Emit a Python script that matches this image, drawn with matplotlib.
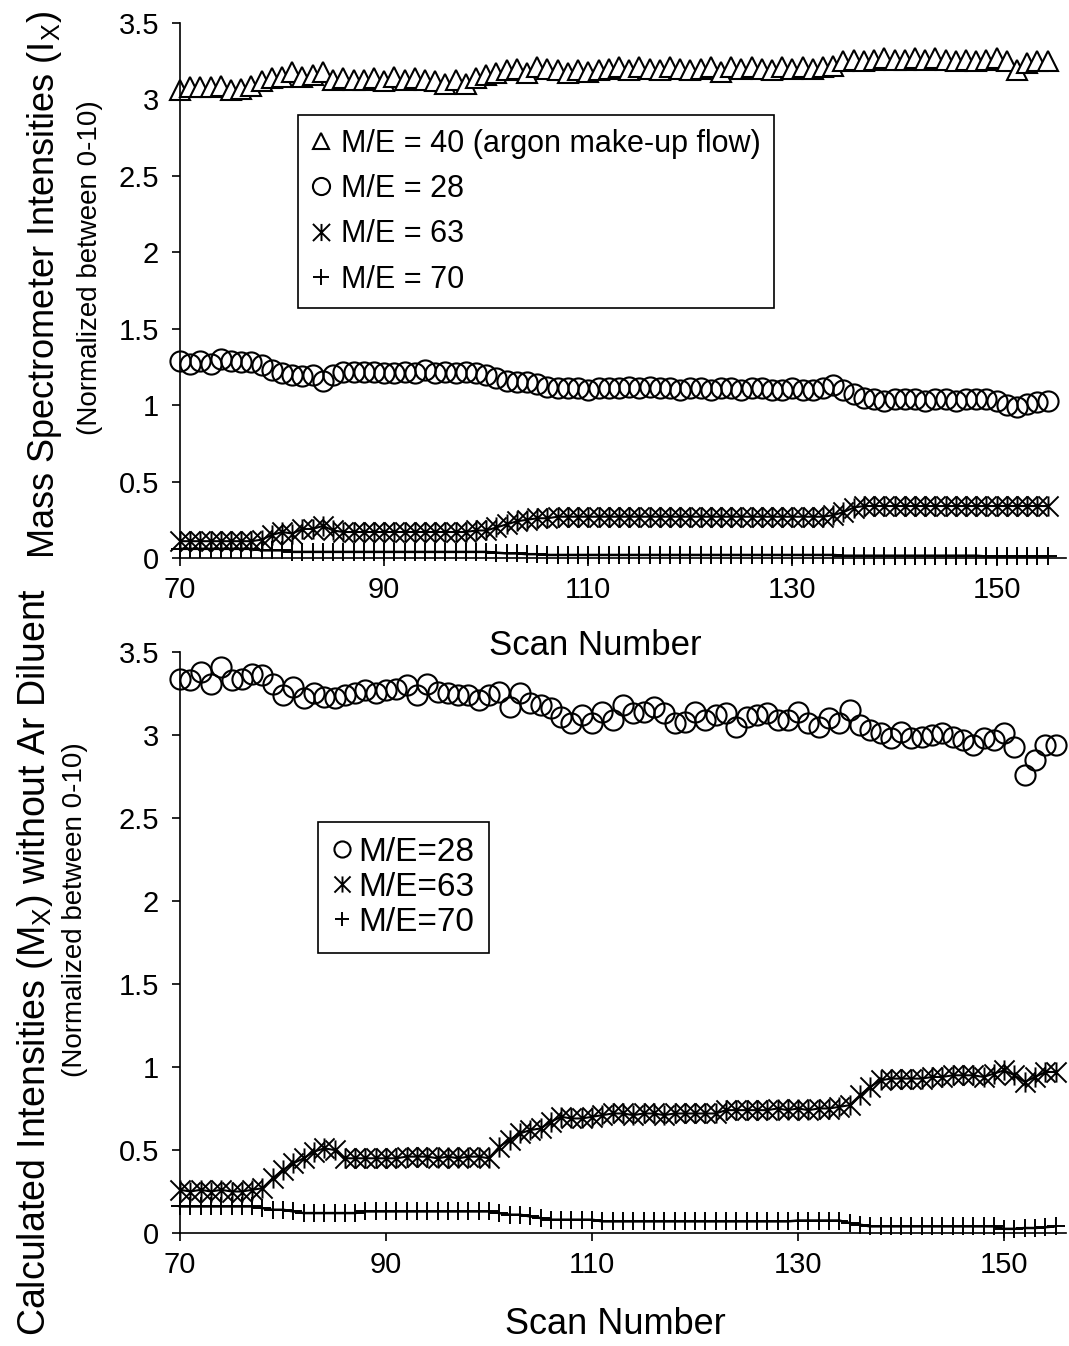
import numpy as np
import matplotlib
matplotlib.use('Agg')
import matplotlib.pyplot as plt
from matplotlib.path import Path

plt.rcParams['font.family'] = ['Liberation Sans', 'DejaVu Sans']
plt.rcParams['mathtext.default'] = 'regular'

# scan numbers
scans = np.arange(70, 156)

# top panel: raw mass spectrometer intensities
me40_top = [3.06, 3.08, 3.08, 3.08, 3.09, 3.06, 3.07, 3.09, 3.12, 3.14,
            3.15, 3.18, 3.15, 3.16, 3.18, 3.13, 3.14, 3.13, 3.13, 3.14,
            3.12, 3.15, 3.13, 3.14, 3.13, 3.12, 3.10, 3.13, 3.10, 3.14,
            3.16, 3.17, 3.19, 3.20, 3.17, 3.21, 3.20, 3.19, 3.17, 3.19,
            3.18, 3.19, 3.20, 3.21, 3.19, 3.21, 3.20, 3.19, 3.21, 3.20,
            3.19, 3.20, 3.21, 3.18, 3.21, 3.20, 3.21, 3.20, 3.19, 3.21,
            3.20, 3.21, 3.20, 3.21, 3.22, 3.25, 3.26, 3.25, 3.26, 3.27,
            3.26, 3.26, 3.27, 3.26, 3.27, 3.26, 3.25, 3.26, 3.25, 3.26,
            3.27, 3.25, 3.19, 3.24, 3.25, 3.25]
me28_top = [1.29, 1.27, 1.29, 1.27, 1.30, 1.29, 1.28, 1.28, 1.26, 1.23,
            1.21, 1.20, 1.19, 1.20, 1.16, 1.20, 1.22, 1.22, 1.22, 1.22,
            1.21, 1.21, 1.22, 1.21, 1.23, 1.21, 1.22, 1.21, 1.22, 1.21,
            1.20, 1.18, 1.16, 1.15, 1.15, 1.14, 1.12, 1.11, 1.11, 1.11,
            1.10, 1.11, 1.11, 1.11, 1.12, 1.11, 1.12, 1.11, 1.11, 1.10,
            1.11, 1.11, 1.10, 1.11, 1.11, 1.10, 1.11, 1.11, 1.10, 1.10,
            1.11, 1.10, 1.10, 1.11, 1.13, 1.10, 1.07, 1.05, 1.04, 1.03,
            1.04, 1.04, 1.04, 1.03, 1.04, 1.04, 1.03, 1.04, 1.04, 1.04,
            1.03, 1.00, 0.99, 1.01, 1.02, 1.03]
me63_top = [0.11, 0.11, 0.11, 0.11, 0.11, 0.11, 0.11, 0.11, 0.12, 0.15,
            0.17, 0.16, 0.19, 0.19, 0.21, 0.18, 0.17, 0.17, 0.17, 0.17,
            0.17, 0.17, 0.17, 0.17, 0.17, 0.17, 0.17, 0.17, 0.17, 0.18,
            0.18, 0.20, 0.22, 0.24, 0.25, 0.26, 0.26, 0.27, 0.27, 0.27,
            0.27, 0.27, 0.27, 0.27, 0.27, 0.27, 0.27, 0.27, 0.27, 0.27,
            0.27, 0.27, 0.27, 0.27, 0.27, 0.27, 0.27, 0.27, 0.27, 0.27,
            0.27, 0.27, 0.27, 0.27, 0.28, 0.30, 0.33, 0.34, 0.34, 0.34,
            0.34, 0.34, 0.34, 0.34, 0.34, 0.34, 0.34, 0.34, 0.34, 0.34,
            0.34, 0.34, 0.34, 0.34, 0.34, 0.34]
me70_top = [0.06, 0.06, 0.06, 0.06, 0.06, 0.06, 0.06, 0.06, 0.05, 0.05,
            0.05, 0.04, 0.04, 0.04, 0.04, 0.04, 0.04, 0.04, 0.04, 0.04,
            0.04, 0.04, 0.04, 0.04, 0.04, 0.04, 0.04, 0.04, 0.04, 0.04,
            0.04, 0.035, 0.03, 0.03, 0.025, 0.025, 0.02, 0.02, 0.02, 0.02,
            0.02, 0.02, 0.02, 0.02, 0.02, 0.02, 0.02, 0.02, 0.02, 0.02,
            0.02, 0.02, 0.02, 0.02, 0.02, 0.02, 0.02, 0.02, 0.02, 0.02,
            0.02, 0.02, 0.02, 0.02, 0.02, 0.015, 0.015, 0.015, 0.015, 0.015,
            0.015, 0.015, 0.015, 0.015, 0.015, 0.015, 0.015, 0.015, 0.015, 0.01,
            0.01, 0.01, 0.01, 0.01, 0.01, 0.01]

# bottom panel: calculated intensities without Ar diluent
me28_bot = [3.34, 3.33, 3.38, 3.31, 3.41, 3.33, 3.34, 3.37, 3.36, 3.31,
            3.24, 3.29, 3.22, 3.25, 3.23, 3.22, 3.24, 3.25, 3.27, 3.25,
            3.27, 3.28, 3.30, 3.24, 3.31, 3.26, 3.25, 3.24, 3.24, 3.21,
            3.24, 3.26, 3.17, 3.25, 3.19, 3.18, 3.16, 3.11, 3.07, 3.12,
            3.07, 3.14, 3.09, 3.18, 3.13, 3.14, 3.17, 3.13, 3.07, 3.08,
            3.14, 3.09, 3.12, 3.13, 3.05, 3.11, 3.12, 3.13, 3.09, 3.09,
            3.14, 3.07, 3.05, 3.10, 3.07, 3.15, 3.06, 3.03, 3.01, 2.98,
            3.02, 2.98, 2.99, 3.00, 3.01, 2.99, 2.97, 2.94, 2.98, 2.97,
            3.01, 2.93, 2.76, 2.85, 2.94, 2.94]
me63_bot = [0.26, 0.25, 0.26, 0.25, 0.26, 0.25, 0.25, 0.26, 0.27, 0.33,
            0.38, 0.42, 0.45, 0.49, 0.51, 0.50, 0.45, 0.45, 0.45, 0.45,
            0.45, 0.45, 0.46, 0.46, 0.46, 0.45, 0.46, 0.45, 0.46, 0.46,
            0.45, 0.52, 0.56, 0.60, 0.62, 0.63, 0.67, 0.70, 0.69, 0.69,
            0.70, 0.71, 0.72, 0.72, 0.71, 0.72, 0.72, 0.71, 0.72, 0.72,
            0.72, 0.72, 0.72, 0.74, 0.74, 0.74, 0.74, 0.74, 0.75, 0.74,
            0.75, 0.74, 0.75, 0.75, 0.76, 0.77, 0.83, 0.88, 0.92, 0.93,
            0.93, 0.93, 0.93, 0.94, 0.94, 0.95, 0.95, 0.95, 0.94, 0.96,
            0.98, 0.95, 0.91, 0.94, 0.97, 0.97]
me70_bot = [0.16, 0.16, 0.16, 0.16, 0.16, 0.16, 0.16, 0.16, 0.15, 0.14,
            0.14, 0.13, 0.12, 0.12, 0.12, 0.12, 0.12, 0.12, 0.13, 0.13,
            0.13, 0.13, 0.13, 0.13, 0.13, 0.13, 0.13, 0.13, 0.13, 0.13,
            0.13, 0.12, 0.11, 0.11, 0.10, 0.09, 0.08, 0.08, 0.08, 0.08,
            0.08, 0.07, 0.07, 0.07, 0.07, 0.07, 0.07, 0.07, 0.07, 0.07,
            0.07, 0.07, 0.07, 0.07, 0.07, 0.07, 0.07, 0.07, 0.07, 0.07,
            0.075, 0.075, 0.075, 0.075, 0.075, 0.06, 0.05, 0.04, 0.04, 0.04,
            0.04, 0.04, 0.04, 0.04, 0.04, 0.04, 0.04, 0.04, 0.04, 0.04,
            0.025, 0.025, 0.03, 0.03, 0.035, 0.04]

# excel style "star": an X with a vertical bar
star = Path([(-1, -1), (1, 1), (-1, 1), (1, -1), (0, -1), (0, 1)],
            [Path.MOVETO, Path.LINETO, Path.MOVETO, Path.LINETO, Path.MOVETO, Path.LINETO])

W, H = 1069, 1346
fig = plt.figure(figsize=(W / 100, H / 100), dpi=100)

ax1 = fig.add_axes([180 / W, 1 - 558 / H, 886 / W, 535 / H])
ax2 = fig.add_axes([180 / W, 1 - 1233 / H, 886 / W, 581 / H])

tri_kw = dict(marker='^', ms=14, mfc='white', mec='k', mew=1.5, ls='none')
circ_kw = dict(marker='o', ms=14.5, mfc='none', mec='k', mew=1.5, ls='none')
star_kw = dict(marker=star, ms=14.5, mec='k', mew=1.4, color='k', lw=1.5)
plus_kw = dict(marker='+', ms=13, mec='k', mew=1.4, color='k', lw=1.8)

ax1.plot(scans, me70_top, label='M/E = 70', **plus_kw)
ax1.plot(scans, me63_top, label='M/E = 63', **star_kw)
ax1.plot(scans, me28_top, label='M/E = 28', **circ_kw)
ax1.plot(scans, me40_top, label='M/E = 40 (argon make-up flow)', **tri_kw)

ax2.plot(scans, me70_bot, label='M/E=70', **plus_kw)
ax2.plot(scans, me63_bot, label='M/E=63', **star_kw)
ax2.plot(scans, me28_bot, label='M/E=28', **circ_kw)

for ax, xmax in ((ax1, 156.8), (ax2, 156.0)):
    ax.set_xlim(70, xmax)
    ax.set_ylim(0, 3.5)
    ax.set_xticks([70, 90, 110, 130, 150])
    ax.set_yticks(np.arange(0, 3.51, 0.5))
    ax.set_yticklabels(['0', '0.5', '1', '1.5', '2', '2.5', '3', '3.5'])
    ax.spines['top'].set_visible(False)
    ax.spines['right'].set_visible(False)
    for s in ('left', 'bottom'):
        ax.spines[s].set_linewidth(1.2)
    ax.tick_params(axis='both', direction='out', length=6, width=1.2, labelsize=21)
    ax.tick_params(axis='y', pad=9)
    ax.tick_params(axis='x', pad=7)
    for line in ax.lines:
        line.set_clip_on(False)


def legend_handles(ax, order):
    hs, ls = ax.get_legend_handles_labels()
    idx = [ls.index(o) for o in order]
    return [hs[i] for i in idx], [ls[i] for i in idx]


h, l = legend_handles(ax1, ['M/E = 40 (argon make-up flow)', 'M/E = 28', 'M/E = 63', 'M/E = 70'])
leg1 = fig.legend(h, l, loc='upper left', bbox_to_anchor=(298 / W, 1 - 115 / H), borderaxespad=0,
                  fontsize=22, frameon=True, fancybox=False, edgecolor='k', framealpha=1,
                  handlelength=0.6, handletextpad=0.35, labelspacing=0.5, borderpad=0.45,
                  markerscale=0.85, numpoints=1)
leg1.get_frame().set_linewidth(1.2)
for lh in leg1.legend_handles:
    lh.set_linestyle('none')

h, l = legend_handles(ax2, ['M/E=28', 'M/E=63', 'M/E=70'])
leg2 = fig.legend(h, l, loc='upper left', bbox_to_anchor=(318 / W, 1 - 822 / H), borderaxespad=0,
                  fontsize=24, frameon=True, fancybox=False, edgecolor='k', framealpha=1,
                  handlelength=0.55, handletextpad=0.2, labelspacing=0.12, borderpad=0.45,
                  markerscale=0.8, numpoints=1)
leg2.get_frame().set_linewidth(1.2)
for lh in leg2.legend_handles:
    lh.set_linestyle('none')

# axis titles
fig.text(595 / W, 1 - 645 / H, 'Scan Number', fontsize=25, ha='center', va='center')
fig.text(615 / W, 1 - 1325 / H, 'Scan Number', fontsize=26, ha='center', va='center')

fig.text(45 / W, 1 - 285 / H, 'Mass Spectrometer Intensities (I$_X$)', fontsize=26,
         rotation=90, ha='center', va='center')
fig.text(90 / W, 1 - 268 / H, '(Normalized between 0-10)', fontsize=20,
         rotation=90, ha='center', va='center')
fig.text(35 / W, 1 - 962 / H, 'Calculated Intensities (M$_X$) without Ar Diluent', fontsize=27,
         rotation=90, ha='center', va='center')
fig.text(75 / W, 1 - 910 / H, '(Normalized between 0-10)', fontsize=20,
         rotation=90, ha='center', va='center')

fig.savefig('out.png', dpi=100)
